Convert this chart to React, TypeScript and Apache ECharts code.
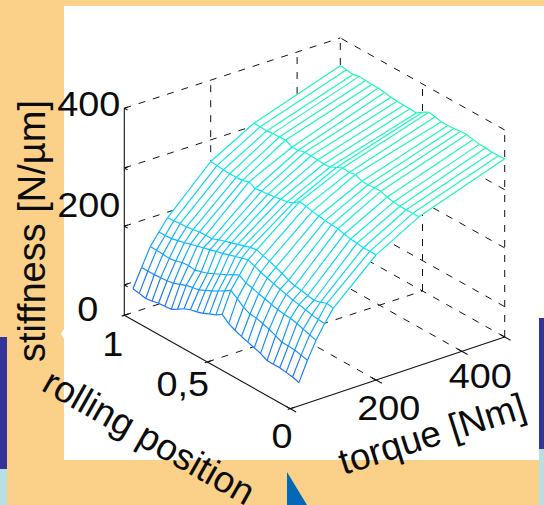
import React, { useEffect, useRef } from "react";
import * as echarts from "echarts";

const W = 544;
const H = 505;

// measured data
const torques = [20, 40, 60, 80, 100, 200, 300, 500];
const positions = [
  1, 0.962, 0.923, 0.885, 0.846, 0.808, 0.769, 0.731, 0.692, 0.654, 0.615, 0.577, 0.538, 0.5, 0.462, 0.423,
  0.385, 0.346, 0.308, 0.269, 0.231, 0.192, 0.154, 0.115, 0.077, 0.038, 0,
];
const stiff20 = [46, 44, 41, 43, 46, 47, 48, 55, 63, 68, 71, 75, 81, 86, 94, 83, 77, 72, 68, 64, 60, 53, 53, 53, 51, 49, 45];
const stiff40 = [82, 82, 82, 83, 84, 86, 91, 96, 99, 101, 107, 113, 120, 127, 135, 126, 116, 110, 109, 105, 101, 96, 90, 90, 89, 86, 83];
const stiff60 = [117, 117, 116, 115, 117, 121, 122, 120, 124, 128, 134, 140, 146, 153, 159, 151, 148, 144, 141, 137, 134, 132, 131, 128, 124, 120, 116];
const stiff80 = [140, 140, 141, 144, 147, 151, 154, 158, 161, 165, 168, 172, 176, 180, 183, 178, 173, 169, 165, 161, 158, 154, 152, 149, 146, 144, 143];
const stiff100 = [162, 163, 165, 165, 167, 169, 170, 170, 175, 179, 183, 187, 191, 195, 197, 193, 189, 184, 179, 173, 169, 167, 164, 162, 165, 170, 167];
const stiff200 = [244, 243, 242, 241, 241, 242, 246, 240, 242, 243, 245, 247, 249, 254, 263, 261, 258, 256, 254, 253, 252, 249, 246, 245, 243, 243, 243];
const stiff300 = [291, 291, 290, 292, 292, 293, 286, 287, 290, 290, 289, 288, 289, 295, 301, 299, 302, 296, 296, 297, 297, 293, 290, 289, 289, 289, 289];
const stiff500 = [348, 347, 345, 348, 347, 346, 346, 344, 342, 341, 340, 340, 339, 347, 354, 352, 349, 349, 350, 351, 352, 349, 347, 347, 345, 345, 346];
const stiffness = [stiff20, stiff40, stiff60, stiff80, stiff100, stiff200, stiff300, stiff500];

const torqueTicks = [0, 200, 400, 500];
const positionTicks = [0, 0.5, 1];
const stiffnessTicks = [59, 173, 286, 402];
const stiffnessTop = 402;
const torqueMax = 500;

const colorStops: [number, number[]][] = [
  [40, [25, 95, 255]],
  [100, [15, 145, 255]],
  [170, [5, 195, 255]],
  [240, [5, 228, 240]],
  [290, [15, 245, 210]],
  [350, [30, 250, 170]],
];

function project(t: number, p: number, z: number): [number, number] {
  const u = t / torqueMax;
  const x0 = 290.3 + (504.7 - 290.3) * u;
  const x1 = 124.3 + (340.3 - 124.3) * u;
  const y0 = 408.7 + (337 - 408.7) * u;
  const y1 = 315.3 + (245 - 315.3) * u;
  return [x0 + (x1 - x0) * p, y0 + (y1 - y0) * p - z * 0.515];
}

function colorFor(z: number): string {
  let c = colorStops[colorStops.length - 1][1];
  if (z <= colorStops[0][0]) c = colorStops[0][1];
  else {
    for (let k = 1; k < colorStops.length; k++) {
      if (z <= colorStops[k][0]) {
        const a = colorStops[k - 1];
        const b = colorStops[k];
        const f = (z - a[0]) / (b[0] - a[0]);
        c = a[1].map((v, n) => v + (b[1][n] - v) * f);
        break;
      }
    }
  }
  return `rgb(${c.map((v) => Math.round(v)).join(",")})`;
}

type Seg = number[];

function seg(a: [number, number], b: [number, number]): Seg {
  return [a[0], a[1], b[0], b[1]];
}

function boxSegments() {
  const dashed: Seg[] = [];
  const solid: Seg[] = [];
  // floor
  [200, 400, 500].forEach((t) => dashed.push(seg(project(t, 0, 0), project(t, 1, 0))));
  [0.5, 1].forEach((p) => dashed.push(seg(project(0, p, 0), project(500, p, 0))));
  // wall at position 1
  stiffnessTicks.forEach((z) => dashed.push(seg(project(0, 1, z), project(500, 1, z))));
  [200, 400, 500].forEach((t) => dashed.push(seg(project(t, 1, 0), project(t, 1, stiffnessTop))));
  // wall at torque 500
  stiffnessTicks.forEach((z) => dashed.push(seg(project(500, 0, z), project(500, 1, z))));
  [0, 0.5].forEach((p) => dashed.push(seg(project(500, p, 0), project(500, p, stiffnessTop))));
  // axes
  solid.push(seg(project(0, 1, 0), project(0, 1, stiffnessTop)));
  solid.push(seg(project(0, 0, 0), project(0, 1, 0)));
  solid.push(seg(project(0, 0, 0), project(500, 0, 0)));
  // ticks
  stiffnessTicks.forEach((z) => {
    solid.push(seg(project(0, 1, z), project(8, 1, z)));
    solid.push(seg(project(0, 1, z), project(0, 0.98, z)));
  });
  torqueTicks.forEach((t) => {
    solid.push(seg(project(t, -0.035, 0), project(t, 0.025, 0)));
  });
  positionTicks.forEach((p) => {
    solid.push(seg(project(-6, p, 0), project(10, p, 0)));
  });
  return { dashed, solid };
}

function surfaceCells() {
  const cells: number[][] = [];
  const edges: { s: Seg; c: string }[] = [];
  torques.forEach((t, a) => {
    positions.forEach((p, b) => {
      const z = stiffness[a][b];
      const here = project(t, p, z);
      if (b + 1 < positions.length) {
        const z2 = stiffness[a][b + 1];
        edges.push({ s: seg(here, project(t, positions[b + 1], z2)), c: colorFor((z + z2) / 2) });
      }
      if (a + 1 < torques.length) {
        const z2 = stiffness[a + 1][b];
        edges.push({ s: seg(here, project(torques[a + 1], p, z2)), c: colorFor((z + z2) / 2) });
      }
      if (a + 1 < torques.length && b + 1 < positions.length) {
        cells.push([
          ...here,
          ...project(t, positions[b + 1], stiffness[a][b + 1]),
          ...project(torques[a + 1], positions[b + 1], stiffness[a + 1][b + 1]),
          ...project(torques[a + 1], p, stiffness[a + 1][b]),
        ]);
      }
    });
  });
  return { cells, edges };
}

const FONT = "'Liberation Sans', Arial, Helvetica, sans-serif";
const INK = "#0c0c0c";

function label(text: string, x: number, y: number, size: number, rotationDeg = 0, scaleX = 1) {
  return {
    type: "text",
    x,
    y,
    z: 5,
    rotation: (rotationDeg * Math.PI) / 180,
    scaleX,
    silent: true,
    style: {
      text,
      fontSize: size,
      fontFamily: FONT,
      fill: INK,
      align: "center",
      verticalAlign: "middle",
      textAlign: "center",
      textVerticalAlign: "middle",
    },
  };
}

function rect(x: number, y: number, width: number, height: number, fill: string) {
  return { type: "rect", z: 0, silent: true, shape: { x, y, width, height }, style: { fill } };
}

export default function App() {
  const ref = useRef<HTMLDivElement>(null);
  useEffect(() => {
    if (!ref.current) return;
    const chart = echarts.init(ref.current, undefined, { renderer: "svg" });
    const { dashed, solid } = boxSegments();
    const { cells, edges } = surfaceCells();

    const lineSeries = (data: Seg[], style: (i: number) => any, z: number) => ({
      type: "custom",
      coordinateSystem: "cartesian2d",
      silent: true,
      z,
      data,
      renderItem: (params: any, api: any) => {
        const a = api.coord([api.value(0), api.value(1)]);
        const b = api.coord([api.value(2), api.value(3)]);
        return {
          type: "line",
          shape: { x1: a[0], y1: a[1], x2: b[0], y2: b[1] },
          style: style(params.dataIndex),
        };
      },
    });

    chart.setOption({
      animation: false,
      tooltip: { show: false },
      grid: { left: 0, right: 0, top: 0, bottom: 0 },
      xAxis: { type: "value", min: 0, max: W, show: false },
      yAxis: { type: "value", min: 0, max: H, inverse: true, show: false },
      graphic: [
        rect(0, 0, W, H, "#FBD088"),
        rect(64, 6, W - 64, 454, "#FFFFFF"),
        rect(0, 337, 7, 132, "#333399"),
        rect(0, 469, 7, 36, "#B8DFE3"),
        rect(539, 318, 5, 131, "#333399"),
        rect(539, 449, 5, 56, "#B8DFE3"),
        {
          type: "polygon",
          z: 0,
          silent: true,
          shape: { points: [[287, 472], [307, 505], [287, 505]] },
          style: { fill: "#0068B5" },
        },
        {
          type: "polygon",
          z: 0,
          silent: true,
          shape: { points: [[64, 329], [61, 334], [64, 339]] },
          style: { fill: "#FFFFFF" },
        },
        label("400", 88.7, 103.5, 35, 0, 1.08),
        label("200", 88.7, 205, 35, 0, 1.08),
        label("0", 87.7, 309, 35, 0, 1.08),
        label("1", 112.7, 343.5, 35, 0, 1.08),
        label("0,5", 182.7, 384, 35, 0, 1.08),
        label("0", 282, 436, 35, 0, 1.08),
        label("200", 388.7, 407.5, 35, 0, 1.08),
        label("400", 480.3, 375.5, 35, 0, 1.08),
        label("stiffness [N/µm]", 32, 231, 38, 90),
        label("rolling position", 149, 437, 37, -29.5),
        label("torque [Nm]", 432, 434, 37, 17.5),
      ],
      series: [
        lineSeries(dashed, () => ({ stroke: "#111111", lineWidth: 1, lineDash: [7, 8], fill: "none" }), 2),
        lineSeries(solid, () => ({ stroke: "#111111", lineWidth: 1.1, fill: "none" }), 3),
        {
          type: "custom",
          coordinateSystem: "cartesian2d",
          silent: true,
          z: 4,
          data: cells,
          renderItem: (_: any, api: any) => {
            const pts = [0, 2, 4, 6].map((k) => api.coord([api.value(k), api.value(k + 1)]));
            return { type: "polygon", shape: { points: pts }, style: { fill: "#FFFFFF", stroke: "#FFFFFF", lineWidth: 1 } };
          },
        },
        lineSeries(edges.map((e) => e.s), (i) => ({ stroke: edges[i].c, lineWidth: 1.15, fill: "none" }), 5),
      ],
    });
    return () => chart.dispose();
  }, []);
  return <div ref={ref} style={{ position: "absolute", left: 0, top: 0, width: W, height: H }} />;
}
